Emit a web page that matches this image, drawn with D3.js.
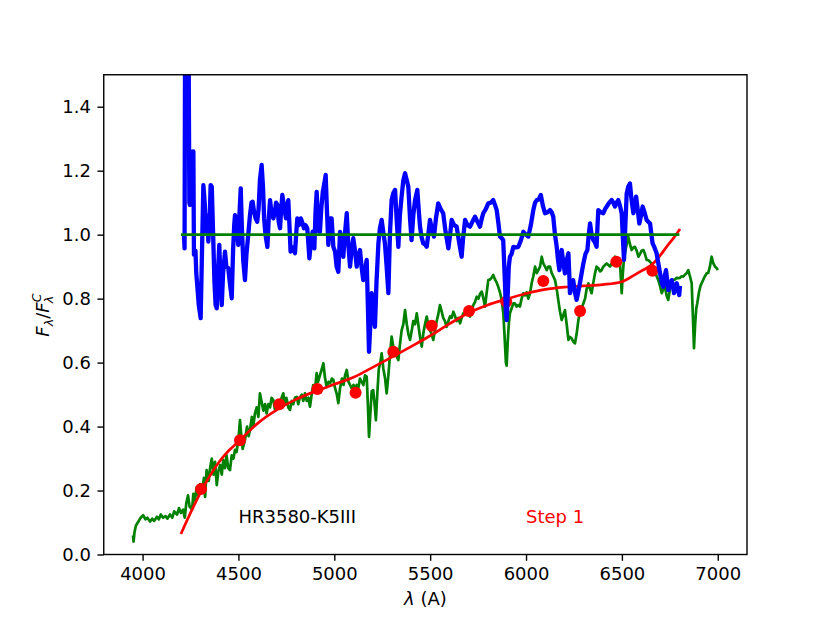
<!DOCTYPE html>
<html><head><meta charset="utf-8">
<script src="https://cdn.jsdelivr.net/npm/d3@7"></script>
<style>
body{margin:0;background:#fff;}
svg{display:block;font-family:"DejaVu Sans",sans-serif;}
</style></head>
<body><svg id="c" width="830" height="623"></svg>
<script>
const xTicks=[4000,4500,5000,5500,6000,6500,7000];
const yTicks=[0.0,0.2,0.4,0.6,0.8,1.0,1.2,1.4];
const xDomain=[3797.5,7152.5];
const yDomain=[0,1.5];

const greenSpectrum=[[3950,0.06],[3953,0.04],[3958,0.07],[3965,0.09],[3975,0.10],[3990,0.115],[4003,0.123],[4015,0.11],[4025,0.115],[4039,0.103],[4050,0.112],[4060,0.105],[4075,0.118],[4085,0.11],[4095,0.125],[4107,0.115],[4120,0.12],[4130,0.112],[4143,0.125],[4155,0.115],[4165,0.135],[4180,0.125],[4190,0.145],[4200,0.13],[4211,0.14],[4220,0.115],[4228,0.16],[4237,0.185],[4245,0.15],[4258,0.14],[4265,0.19],[4273,0.17],[4282,0.21],[4290,0.185],[4300,0.22],[4310,0.195],[4320,0.24],[4326,0.18],[4334,0.264],[4345,0.23],[4352,0.27],[4361,0.30],[4370,0.25],[4378,0.29],[4387,0.217],[4395,0.26],[4405,0.28],[4413,0.25],[4421,0.295],[4430,0.27],[4438,0.31],[4447,0.27],[4456,0.264],[4465,0.31],[4474,0.30],[4482,0.327],[4490,0.32],[4500,0.36],[4508,0.42],[4515,0.37],[4522,0.33],[4534,0.358],[4545,0.40],[4553,0.37],[4560,0.389],[4570,0.43],[4577,0.40],[4586,0.441],[4595,0.46],[4604,0.43],[4612,0.504],[4620,0.48],[4630,0.45],[4639,0.47],[4647,0.441],[4656,0.47],[4665,0.46],[4673,0.49],[4682,0.483],[4690,0.455],[4700,0.47],[4708,0.48],[4716,0.462],[4725,0.49],[4734,0.504],[4742,0.47],[4750,0.49],[4760,0.46],[4769,0.452],[4778,0.48],[4786,0.47],[4795,0.49],[4804,0.493],[4812,0.47],[4820,0.49],[4830,0.50],[4838,0.48],[4847,0.504],[4856,0.48],[4865,0.49],[4873,0.462],[4882,0.50],[4890,0.53],[4900,0.52],[4908,0.567],[4915,0.54],[4925,0.56],[4935,0.58],[4943,0.598],[4952,0.55],[4960,0.525],[4970,0.54],[4978,0.535],[4987,0.55],[4995,0.546],[5004,0.52],[5012,0.504],[5021,0.473],[5030,0.52],[5040,0.55],[5048,0.53],[5056,0.56],[5065,0.577],[5074,0.54],[5082,0.53],[5090,0.52],[5100,0.53],[5108,0.514],[5117,0.53],[5125,0.52],[5134,0.55],[5143,0.54],[5152,0.53],[5160,0.56],[5169,0.556],[5175,0.47],[5181,0.368],[5188,0.44],[5195,0.51],[5203,0.514],[5210,0.47],[5217,0.42],[5224,0.50],[5232,0.58],[5240,0.60],[5247,0.629],[5256,0.58],[5265,0.55],[5273,0.504],[5282,0.56],[5290,0.62],[5299,0.681],[5308,0.65],[5316,0.64],[5325,0.62],[5334,0.608],[5343,0.66],[5351,0.70],[5360,0.72],[5369,0.764],[5378,0.72],[5386,0.69],[5395,0.671],[5404,0.70],[5412,0.73],[5421,0.72],[5430,0.754],[5438,0.72],[5447,0.68],[5456,0.65],[5464,0.69],[5473,0.72],[5482,0.744],[5490,0.72],[5499,0.70],[5508,0.69],[5516,0.671],[5525,0.70],[5534,0.73],[5542,0.75],[5551,0.78],[5560,0.76],[5568,0.74],[5577,0.73],[5586,0.712],[5595,0.73],[5604,0.745],[5612,0.74],[5621,0.759],[5630,0.745],[5638,0.73],[5647,0.74],[5656,0.723],[5664,0.74],[5673,0.754],[5682,0.75],[5690,0.76],[5699,0.75],[5708,0.744],[5716,0.76],[5725,0.78],[5734,0.79],[5743,0.806],[5752,0.80],[5760,0.815],[5769,0.822],[5778,0.80],[5786,0.775],[5795,0.82],[5803,0.858],[5812,0.86],[5820,0.865],[5829,0.874],[5838,0.86],[5847,0.85],[5855,0.837],[5864,0.82],[5873,0.796],[5882,0.75],[5890,0.66],[5895,0.60],[5899,0.59],[5904,0.66],[5910,0.72],[5916,0.754],[5925,0.77],[5934,0.785],[5942,0.785],[5951,0.775],[5960,0.78],[5968,0.775],[5977,0.80],[5986,0.817],[5995,0.81],[6003,0.82],[6012,0.80],[6021,0.817],[6030,0.85],[6038,0.87],[6047,0.90],[6056,0.88],[6064,0.889],[6073,0.90],[6082,0.931],[6090,0.91],[6099,0.90],[6108,0.889],[6116,0.90],[6125,0.90],[6134,0.88],[6142,0.87],[6151,0.858],[6160,0.83],[6168,0.796],[6177,0.76],[6186,0.733],[6195,0.75],[6203,0.764],[6212,0.72],[6221,0.671],[6229,0.68],[6238,0.676],[6247,0.665],[6255,0.66],[6264,0.69],[6273,0.733],[6282,0.76],[6290,0.77],[6299,0.785],[6308,0.80],[6316,0.83],[6325,0.848],[6334,0.83],[6342,0.817],[6351,0.85],[6360,0.88],[6368,0.90],[6377,0.895],[6386,0.885],[6394,0.889],[6403,0.90],[6412,0.905],[6421,0.91],[6430,0.905],[6438,0.90],[6447,0.91],[6455,0.92],[6464,0.931],[6473,0.92],[6481,0.915],[6490,0.91],[6495,0.86],[6499,0.817],[6504,0.87],[6510,0.92],[6516,0.942],[6525,0.97],[6533,0.994],[6542,0.97],[6551,0.952],[6560,0.96],[6568,0.962],[6577,0.95],[6586,0.931],[6595,0.94],[6603,0.95],[6612,0.952],[6620,0.94],[6629,0.921],[6638,0.92],[6647,0.915],[6655,0.91],[6664,0.90],[6673,0.889],[6681,0.87],[6690,0.858],[6699,0.84],[6708,0.817],[6716,0.83],[6725,0.837],[6733,0.81],[6742,0.796],[6751,0.83],[6760,0.85],[6768,0.858],[6777,0.86],[6786,0.865],[6794,0.864],[6803,0.865],[6812,0.87],[6820,0.869],[6829,0.875],[6838,0.88],[6846,0.889],[6855,0.87],[6864,0.848],[6870,0.75],[6876,0.645],[6882,0.72],[6888,0.77],[6893,0.785],[6902,0.82],[6910,0.84],[6916,0.848],[6925,0.86],[6933,0.87],[6942,0.879],[6950,0.88],[6959,0.90],[6968,0.931],[6977,0.91],[6986,0.90],[6995,0.895],[7000,0.889]];

const blueNormalized=[[4216,1.00],[4219,0.957],[4222,1.7],[4229,1.45],[4234,1.7],[4240,1.6],[4244,1.1],[4247,1.093],[4256,1.2],[4262,1.26],[4265,1.26],[4268,0.937],[4276,0.95],[4280,0.88],[4285,0.843],[4293,0.78],[4303,0.739],[4310,0.95],[4317,1.155],[4324,1.10],[4331,1.01],[4337,1.06],[4343,0.978],[4350,1.05],[4355,1.155],[4361,1.15],[4368,1.0],[4375,0.85],[4381,0.78],[4387,0.77],[4393,0.88],[4400,0.968],[4407,0.85],[4413,0.78],[4420,0.88],[4430,0.947],[4437,0.90],[4447,0.895],[4455,0.85],[4465,0.801],[4472,0.95],[4478,1.03],[4482,1.061],[4490,1.03],[4499,0.968],[4505,1.06],[4512,1.145],[4518,1.02],[4525,0.92],[4534,0.858],[4542,0.94],[4551,0.999],[4560,1.06],[4568,1.10],[4574,1.103],[4582,1.07],[4590,1.05],[4598,1.04],[4605,1.08],[4612,1.17],[4621,1.218],[4628,1.15],[4634,1.05],[4641,1.0],[4651,0.962],[4658,1.05],[4665,1.108],[4672,1.07],[4682,1.051],[4690,1.07],[4696,1.10],[4703,1.093],[4710,1.04],[4717,1.02],[4723,1.08],[4729,1.124],[4737,1.09],[4748,1.051],[4754,1.09],[4760,1.108],[4766,1.03],[4772,0.947],[4783,0.96],[4790,0.95],[4795,0.942],[4801,1.0],[4807,1.051],[4815,1.03],[4825,1.051],[4832,1.04],[4842,1.02],[4850,1.03],[4859,1.02],[4865,0.97],[4870,0.926],[4878,0.98],[4887,1.009],[4892,0.98],[4896,0.957],[4902,1.07],[4908,1.134],[4914,1.06],[4920,1.01],[4925,1.009],[4932,1.08],[4940,1.134],[4948,1.16],[4955,1.187],[4962,1.07],[4969,0.968],[4978,1.051],[4986,1.051],[4995,0.962],[5004,0.947],[5012,0.9],[5021,0.884],[5030,1.009],[5040,0.97],[5047,0.931],[5055,1.0],[5065,1.067],[5072,0.98],[5082,0.9],[5090,0.95],[5099,0.989],[5108,0.95],[5117,0.9],[5125,0.93],[5134,0.952],[5142,0.90],[5151,0.858],[5160,0.89],[5169,0.921],[5175,0.78],[5181,0.634],[5188,0.72],[5195,0.817],[5203,0.76],[5212,0.712],[5220,0.85],[5230,0.973],[5238,1.02],[5247,1.046],[5255,1.01],[5264,0.973],[5273,0.90],[5282,0.817],[5290,1.0],[5299,1.108],[5308,1.13],[5317,1.14],[5325,1.05],[5334,0.962],[5342,1.06],[5351,1.119],[5360,1.17],[5369,1.192],[5378,1.17],[5386,1.15],[5395,1.05],[5403,0.983],[5412,1.06],[5421,1.108],[5433,1.14],[5440,1.08],[5447,1.025],[5456,0.99],[5464,0.973],[5473,0.97],[5482,0.962],[5490,1.0],[5499,1.046],[5508,1.02],[5520,0.994],[5530,1.05],[5542,1.098],[5555,1.08],[5568,1.067],[5580,1.01],[5595,0.957],[5604,1.0],[5612,1.046],[5625,1.03],[5638,1.025],[5650,0.98],[5664,0.931],[5672,0.99],[5682,1.046],[5695,1.03],[5708,1.025],[5720,1.04],[5734,1.056],[5747,1.04],[5760,1.025],[5769,1.05],[5777,1.067],[5790,1.08],[5803,1.098],[5816,1.10],[5829,1.108],[5840,1.09],[5847,1.077],[5855,1.04],[5864,0.994],[5872,0.99],[5881,0.983],[5890,0.85],[5895,0.76],[5899,0.733],[5905,0.82],[5910,0.90],[5916,0.931],[5925,0.94],[5934,0.962],[5947,0.96],[5960,0.962],[5972,0.98],[5986,1.009],[5999,1.00],[6012,0.994],[6025,1.03],[6038,1.077],[6047,1.10],[6056,1.108],[6066,1.11],[6077,1.124],[6088,1.09],[6099,1.067],[6112,1.07],[6125,1.077],[6134,1.07],[6142,1.056],[6151,1.0],[6160,0.962],[6167,0.92],[6174,0.889],[6180,0.93],[6186,0.952],[6195,0.91],[6203,0.879],[6212,0.92],[6221,0.942],[6226,0.87],[6229,0.817],[6238,0.84],[6246,0.858],[6255,0.82],[6264,0.796],[6272,0.82],[6281,0.848],[6290,0.88],[6299,0.91],[6310,0.94],[6320,0.952],[6327,1.0],[6334,1.035],[6342,1.0],[6351,0.983],[6360,0.975],[6368,0.962],[6373,1.03],[6377,1.077],[6390,1.07],[6403,1.067],[6412,1.08],[6421,1.088],[6434,1.10],[6447,1.108],[6455,1.10],[6464,1.088],[6472,1.10],[6481,1.108],[6490,1.09],[6499,1.067],[6505,0.99],[6511,0.921],[6518,1.03],[6525,1.129],[6533,1.15],[6542,1.16],[6550,1.11],[6560,1.067],[6567,1.09],[6574,1.119],[6582,1.08],[6591,1.035],[6600,1.06],[6608,1.088],[6618,1.07],[6629,1.046],[6638,1.04],[6647,1.035],[6654,1.0],[6660,0.973],[6670,0.96],[6681,0.942],[6690,0.91],[6699,0.879],[6708,0.85],[6716,0.837],[6723,0.87],[6730,0.889],[6736,0.86],[6742,0.827],[6751,0.84],[6760,0.858],[6766,0.84],[6772,0.817],[6779,0.83],[6786,0.848],[6793,0.83],[6799,0.811],[6803,0.84]];

const continuumLevel=[[4200,1.0],[6800,1.0]];

const fitCurve=[[4200,0.064],[4250,0.13],[4300,0.191],[4350,0.245],[4400,0.29],[4450,0.325],[4500,0.353],[4600,0.41],[4700,0.452],[4800,0.485],[4900,0.51],[5000,0.532],[5100,0.554],[5200,0.585],[5300,0.617],[5400,0.65],[5500,0.684],[5600,0.721],[5700,0.755],[5800,0.78],[5900,0.799],[6000,0.816],[6100,0.829],[6200,0.836],[6300,0.84],[6400,0.844],[6500,0.853],[6560,0.872],[6600,0.886],[6660,0.908],[6700,0.935],[6733,0.962],[6770,0.99],[6803,1.018]];

const dotWave=[4305,4508,4713,4912,5111,5308,5508,5703,5897,6090,6282,6471,6659];
const dotFlux=[0.205,0.357,0.47,0.5175,0.506,0.634,0.7155,0.761,0.79,0.855,0.761,0.9156,0.8875];

const labels=[{text:"HR3580-K5III",x:4500,y:0.1,color:"#000000"},{text:"Step 1",x:6000,y:0.1,color:"#ff0000"}];

const FS=18;
const L=103.75,R=747,T=74.75,B=554.5;
const svg=d3.select("#c");
const x=d3.scaleLinear().domain(xDomain).range([L,R]);
const y=d3.scaleLinear().domain(yDomain).range([B,T]);

svg.append("defs").append("clipPath").attr("id","clip").append("rect")
  .attr("x",L).attr("y",T).attr("width",R-L).attr("height",B-T);
const g=svg.append("g").attr("clip-path","url(#clip)");
const line=d3.line().x(d=>x(d[0])).y(d=>y(d[1]));
const smooth=d3.line().x(d=>x(d[0])).y(d=>y(d[1])).curve(d3.curveMonotoneX);

g.append("path").datum(greenSpectrum).attr("d",line).attr("fill","none")
  .attr("stroke","#008000").attr("stroke-width",2.7).attr("stroke-linejoin","round");
g.selectAll("circle.dot").data(dotWave.map((w,i)=>[w,dotFlux[i]])).enter().append("circle")
  .attr("class","dot").attr("cx",d=>x(d[0])).attr("cy",d=>y(d[1])).attr("r",6).attr("fill","#ff0000");
g.append("path").datum(fitCurve).attr("d",smooth).attr("fill","none")
  .attr("stroke","#ff0000").attr("stroke-width",2.7);
g.append("path").datum(blueNormalized).attr("d",line).attr("fill","none")
  .attr("stroke","#0000ff").attr("stroke-width",4.3).attr("stroke-linejoin","round");
g.append("path").datum(continuumLevel).attr("d",line).attr("fill","none")
  .attr("stroke","#008000").attr("stroke-width",2.7);

labels.forEach(l=>{
  svg.append("text").attr("x",x(l.x)).attr("y",y(l.y)).attr("fill",l.color)
    .attr("font-size",FS+"px").text(l.text);
});

// axes
const xa=svg.append("g").attr("transform",`translate(0,${B})`)
  .call(d3.axisBottom(x).tickValues(xTicks).tickFormat(d3.format("d")).tickSize(6.3).tickPadding(6.6));
const ya=svg.append("g").attr("transform",`translate(${L},0)`)
  .call(d3.axisLeft(y).tickValues(yTicks).tickFormat(d3.format(".1f")).tickSize(6.3).tickPadding(6.6));
[xa,ya].forEach(a=>{
  a.select(".domain").remove();
  a.selectAll(".tick line").attr("stroke","#000").attr("stroke-width",1.4);
  a.selectAll(".tick text").attr("fill","#000").attr("font-size",FS+"px").attr("font-family","DejaVu Sans");
});
svg.append("rect").attr("x",L).attr("y",T).attr("width",R-L).attr("height",B-T)
  .attr("fill","none").attr("stroke","#000").attr("stroke-width",1.4);

// x label
const xl=svg.append("text").attr("x",(L+R)/2).attr("y",605).attr("text-anchor","middle")
  .attr("font-size",FS+"px").attr("fill","#000");
xl.append("tspan").attr("font-style","italic").text("λ");
xl.append("tspan").text(" (A)");

// y label (mathtext-like)
const yl=svg.append("g").attr("transform",`translate(49,${(T+B)/2}) rotate(-90)`);
yl.append("text").attr("x",-22).attr("y",0).attr("font-size",FS+"px").attr("font-style","italic").text("F");
yl.append("text").attr("x",-11.5).attr("y",4).attr("font-size","12.6px").attr("font-style","italic").text("λ");
yl.append("text").attr("x",-4).attr("y",0).attr("font-size",FS+"px").text("/");
yl.append("text").attr("x",2).attr("y",0).attr("font-size",FS+"px").attr("font-style","italic").text("F");
yl.append("text").attr("x",12.5).attr("y",-8).attr("font-size","12.6px").attr("font-style","italic").text("C");
yl.append("text").attr("x",11.5).attr("y",4).attr("font-size","12.6px").attr("font-style","italic").text("λ");
</script></body></html>
